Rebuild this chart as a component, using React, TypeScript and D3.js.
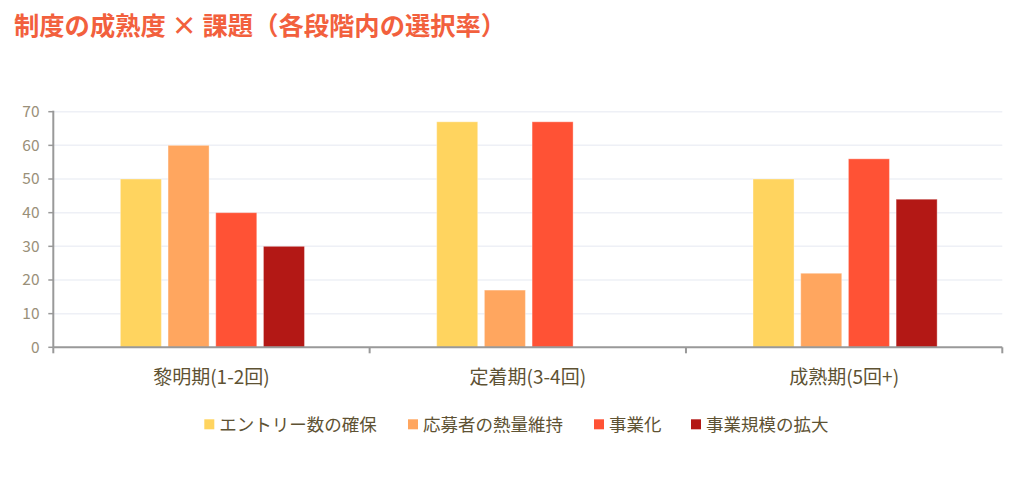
import React from "react";
import * as d3 from "d3";

const categories = ["黎明期(1-2回)", "定着期(3-4回)", "成熟期(5回+)"];
const seriesNames = ["エントリー数の確保", "応募者の熱量維持", "事業化", "事業規模の拡大"];
const seriesColors = ["#FFD45F", "#FFA65F", "#FF5235", "#B31815"];
const entryValues = [50, 67, 50];
const passionValues = [60, 17, 22];
const businessValues = [40, 67, 56];
const scaleValues = [30, 0, 44];
const yTicks = [0, 10, 20, 30, 40, 50, 60, 70];
const titleText = "制度の成熟度 × 課題（各段階内の選択率）";

const W = 1024;
const H = 489;
const FONT = '"Noto Sans CJK JP", "Noto Sans", sans-serif';

export default function App() {
  const series = [entryValues, passionValues, businessValues, scaleValues];
  const left = 53.3, right = 1002.3, top = 111.7, bottom = 347.3;
  const y = d3.scaleLinear().domain([0, 70]).range([bottom, top]);
  const x0 = d3.scaleBand<string>().domain(categories).range([left, right]).padding(0);
  const bw = x0.bandwidth();
  const x1 = d3
    .scaleBand<string>()
    .domain(seriesNames)
    .range([bw * 0.212, bw * 0.794])
    .paddingInner(0.14)
    .paddingOuter(0);

  const boundaries = [...categories.map((c) => x0(c) as number), right];

  const legendX = [204.3, 408, 594, 691];

  return (
    <svg
      width={W}
      height={H}
      style={{ position: "absolute", left: 0, top: 0, background: "#fff" }}
      fontFamily={FONT}
    >
      <text x={14} y={35} fontSize={25.3} fontWeight={700} fill="#F2603D">
        {titleText}
      </text>

      {yTicks.map((t) => (
        <g key={t}>
          {t > 0 && (
            <line x1={left} x2={right} y1={y(t)} y2={y(t)} stroke="#EEF0F6" strokeWidth={1.5} />
          )}
          <line x1={left - 5} x2={left} y1={y(t)} y2={y(t)} stroke="#999" strokeWidth={1.5} />
          <text
            x={39.5}
            y={y(t)}
            dy="0.35em"
            textAnchor="end"
            fontSize={15.5}
            fill="#9A9079"
          >
            {t}
          </text>
        </g>
      ))}

      {categories.map((c, ci) => (
        <g key={c} transform={`translate(${x0(c)},0)`}>
          {series.map((vals, si) => {
            const v = vals[ci];
            if (!v) return null;
            return (
              <rect
                key={si}
                x={x1(seriesNames[si])}
                y={y(v)}
                width={x1.bandwidth()}
                height={bottom - y(v)}
                fill={seriesColors[si]}
                stroke="rgba(255,255,255,0.35)"
                strokeWidth={1}
              />
            );
          })}
          <text
            x={bw / 2}
            y={384}
            textAnchor="middle"
            fontSize={19}
            fill="#5E5233"
          >
            {c}
          </text>
        </g>
      ))}

      <line x1={left} x2={left} y1={top - 1} y2={bottom} stroke="#999" strokeWidth={2} />
      <line x1={left} x2={right} y1={bottom} y2={bottom} stroke="#999" strokeWidth={2} />
      {boundaries.map((b, i) => (
        <line key={i} x1={b} x2={b} y1={bottom} y2={bottom + 6} stroke="#999" strokeWidth={2} />
      ))}

      {seriesNames.map((s, i) => (
        <g key={s} transform={`translate(${legendX[i]},419.3)`}>
          <rect x={0} y={0} width={10} height={10} fill={seriesColors[i]} />
          <text x={15} y={5} dy="0.36em" fontSize={17.5} fill="#5E5233">
            {s}
          </text>
        </g>
      ))}
    </svg>
  );
}
